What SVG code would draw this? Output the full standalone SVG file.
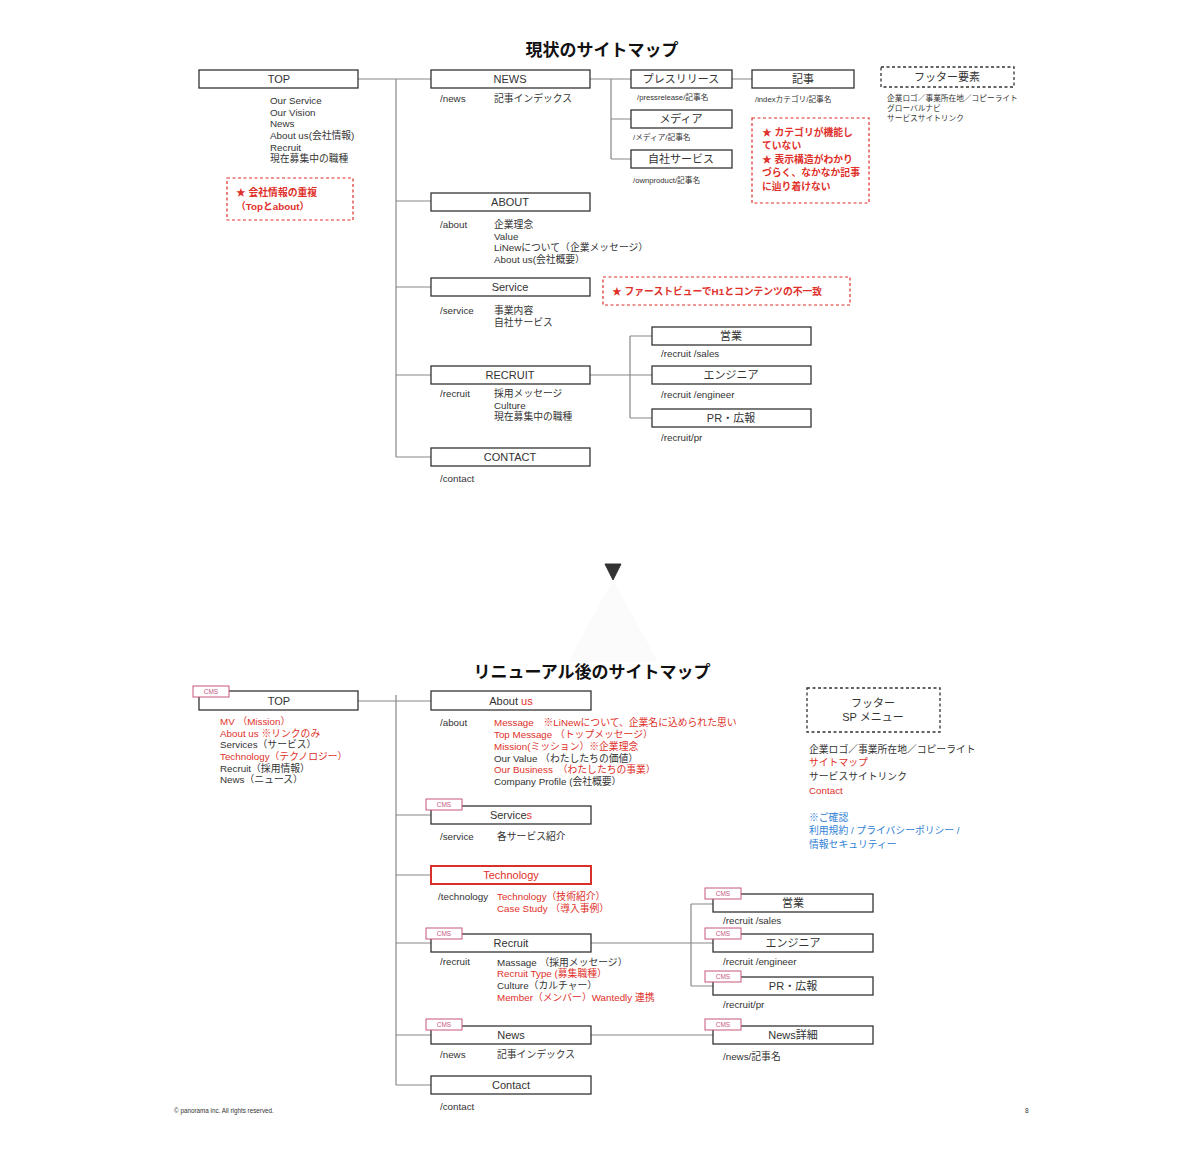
<svg xmlns="http://www.w3.org/2000/svg" width="1200" height="1167" viewBox="0 0 1200 1167">
<style>
text{font-family:"Liberation Sans","Noto Sans CJK JP",sans-serif;fill:#333;dominant-baseline:central}
.ttl{font-size:17px;font-weight:bold;fill:#111;text-anchor:middle}
.bx{fill:#fff;stroke:#333;stroke-width:1.3}
.rbx{fill:#fff;stroke:#d9302a;stroke-width:2}
.lbl{font-size:11px;text-anchor:middle}
.t{font-size:9.8px}
.s{font-size:7.7px}
.r{fill:#e0302a}
.b{fill:#2f7fd6}
.w{font-weight:bold}
.note{fill:none;stroke:#e0302a;stroke-width:1.2;stroke-dasharray:3 2.5}
.foot{fill:#fff;stroke:#333;stroke-width:1.3;stroke-dasharray:3 2.5}
.ln{fill:none;stroke:#888;stroke-width:1.2}
.cms{fill:#fff;stroke:#c8577f;stroke-width:1}
.cmst{font-size:6.5px;fill:#c8577f;text-anchor:middle}
</style>
<rect width="1200" height="1167" fill="#fff"/>

<text class="ttl" x="602" y="50">現状のサイトマップ</text>

<g id="connectors-current">
<path class="ln" d="M358 79H431M396 79V457M396 201H431M396 287H431M396 375H431M396 457H431"/>
<path class="ln" d="M590 79H631M611 79V159M611 119H631M611 159H631M732 79H752"/>
<path class="ln" d="M590 375H652M630 336V418M630 336H652M630 418H652"/>
</g>

<g id="c-top">
<rect class="bx" x="199" y="70" width="159" height="18"/>
<text class="lbl" x="279" y="79">TOP</text>
<text class="t" x="270" y="100">Our Service</text>
<text class="t" x="270" y="112">Our Vision</text>
<text class="t" x="270" y="123">News</text>
<text class="t" x="270" y="135">About us(会社情報)</text>
<text class="t" x="270" y="147">Recruit</text>
<text class="t" x="270" y="158">現在募集中の職種</text>
</g>
<g id="c-note1">
<rect class="note" x="227" y="178" width="126" height="42"/>
<text class="t r w" x="236" y="192">★ 会社情報の重複</text>
<text class="t r w" x="236" y="206">（Topとabout）</text>
</g>
<g id="c-news">
<rect class="bx" x="431" y="70" width="159" height="18"/>
<text class="lbl" x="510" y="79">NEWS</text>
<text class="t" x="440" y="98">/news</text>
<text class="t" x="494" y="98">記事インデックス</text>
</g>
<g id="c-press">
<rect class="bx" x="631" y="70" width="101" height="18"/>
<text class="lbl" x="681" y="79">プレスリリース</text>
<text class="s" x="637" y="97">/pressrelease/記事名</text>
</g>
<g id="c-kiji">
<rect class="bx" x="752" y="70" width="102" height="18"/>
<text class="lbl" x="803" y="79">記事</text>
<text class="s" x="755" y="99">/indexカテゴリ/記事名</text>
</g>
<g id="c-media">
<rect class="bx" x="631" y="110" width="101" height="18"/>
<text class="lbl" x="681" y="119">メディア</text>
<text class="s" x="633" y="137">/メディア/記事名</text>
</g>
<g id="c-own">
<rect class="bx" x="631" y="150" width="101" height="18"/>
<text class="lbl" x="681" y="159">自社サービス</text>
<text class="s" x="633" y="180">/ownproduct/記事名</text>
</g>
<g id="c-note2">
<rect class="note" x="752" y="118" width="117" height="85"/>
<text class="t r w" x="762" y="132">★ カテゴリが機能し</text>
<text class="t r w" x="762" y="145">ていない</text>
<text class="t r w" x="762" y="159">★ 表示構造がわかり</text>
<text class="t r w" x="762" y="172">づらく、なかなか記事</text>
<text class="t r w" x="762" y="186">に辿り着けない</text>
</g>
<g id="c-footer">
<rect class="foot" x="881" y="67" width="133" height="20"/>
<text class="lbl" x="947" y="77">フッター要素</text>
<text class="s" x="887" y="98">企業ロゴ／事業所在地／コピーライト</text>
<text class="s" x="887" y="108">グローバルナビ</text>
<text class="s" x="887" y="118">サービスサイトリンク</text>
</g>
<g id="c-about">
<rect class="bx" x="431" y="193" width="159" height="18"/>
<text class="lbl" x="510" y="202">ABOUT</text>
<text class="t" x="440" y="224">/about</text>
<text class="t" x="494" y="224">企業理念</text>
<text class="t" x="494" y="236">Value</text>
<text class="t" x="494" y="247">LiNewについて（企業メッセージ）</text>
<text class="t" x="494" y="259">About us(会社概要）</text>
</g>
<g id="c-service">
<rect class="bx" x="431" y="278" width="159" height="18"/>
<text class="lbl" x="510" y="287">Service</text>
<text class="t" x="440" y="310">/service</text>
<text class="t" x="494" y="310">事業内容</text>
<text class="t" x="494" y="322">自社サービス</text>
</g>
<g id="c-note3">
<rect class="note" x="603" y="277" width="247" height="28"/>
<text class="t r w" x="612" y="291">★ ファーストビューでH1とコンテンツの不一致</text>
</g>
<g id="c-recruit">
<rect class="bx" x="431" y="366" width="159" height="18"/>
<text class="lbl" x="510" y="375">RECRUIT</text>
<text class="t" x="440" y="393">/recruit</text>
<text class="t" x="494" y="393">採用メッセージ</text>
<text class="t" x="494" y="405">Culture</text>
<text class="t" x="494" y="416">現在募集中の職種</text>
</g>
<g id="c-sales">
<rect class="bx" x="652" y="327" width="159" height="18"/>
<text class="lbl" x="731" y="336">営業</text>
<text class="t" x="661" y="353">/recruit /sales</text>
</g>
<g id="c-eng">
<rect class="bx" x="652" y="366" width="159" height="18"/>
<text class="lbl" x="731" y="375">エンジニア</text>
<text class="t" x="661" y="394">/recruit /engineer</text>
</g>
<g id="c-pr">
<rect class="bx" x="652" y="409" width="159" height="18"/>
<text class="lbl" x="731" y="418">PR・広報</text>
<text class="t" x="661" y="437">/recruit/pr</text>
</g>
<g id="c-contact">
<rect class="bx" x="431" y="448" width="159" height="18"/>
<text class="lbl" x="510" y="457">CONTACT</text>
<text class="t" x="440" y="478">/contact</text>
</g>

<g id="arrow">
<polygon points="613,580 568,662 658,662" fill="#fbfbfb"/>
<polygon points="605,564 621,564 613,580" fill="#333" stroke="#333" stroke-width="1" stroke-linejoin="round"/>
</g>

<text class="ttl" x="592" y="672">リニューアル後のサイトマップ</text>

<g id="connectors-renewal">
<path class="ln" d="M358 701H431M396 695V1085M396 815H431M396 875H431M396 943H431M396 1035H431M396 1085H431"/>
<path class="ln" d="M591 943H713M691 904V986M691 904H713M691 986H713M591 1035H713"/>
</g>

<g id="n-top">
<rect class="bx" x="199" y="691" width="159" height="19"/>
<rect class="cms" x="193" y="686" width="36" height="11"/>
<text class="cmst" x="211" y="691.5">CMS</text>
<text class="lbl" x="279" y="701">TOP</text>
<text class="t r" x="220" y="721">MV （Mission）</text>
<text class="t r" x="220" y="733">About us ※リンクのみ</text>
<text class="t" x="220" y="744">Services（サービス）</text>
<text class="t r" x="220" y="756">Technology（テクノロジー）</text>
<text class="t" x="220" y="768">Recruit（採用情報）</text>
<text class="t" x="220" y="779">News（ニュース）</text>
</g>
<g id="n-about">
<rect class="bx" x="431" y="691" width="160" height="19"/>
<text class="lbl" x="511" y="701">About <tspan class="r">us</tspan></text>
<text class="t" x="440" y="722">/about</text>
<text class="t r" x="494" y="722">Message　※LiNewについて、企業名に込められた思い</text>
<text class="t r" x="494" y="734">Top Message （トップメッセージ）</text>
<text class="t r" x="494" y="746">Mission(ミッション）※企業理念</text>
<text class="t" x="494" y="758">Our Value （わたしたちの価値）</text>
<text class="t r" x="494" y="769">Our Business　（わたしたちの事業）</text>
<text class="t" x="494" y="781">Company Profile (会社概要）</text>
</g>
<g id="n-services">
<rect class="bx" x="431" y="806" width="160" height="18"/>
<rect class="cms" x="426" y="799" width="36" height="11"/>
<text class="cmst" x="444" y="804.5">CMS</text>
<text class="lbl" x="511" y="815">Service<tspan class="r">s</tspan></text>
<text class="t" x="440" y="836">/service</text>
<text class="t" x="497" y="836">各サービス紹介</text>
</g>
<g id="n-tech">
<rect class="rbx" x="431" y="866" width="160" height="18"/>
<text class="lbl r" x="511" y="875">Technology</text>
<text class="t" x="438" y="896">/technology</text>
<text class="t r" x="497" y="896">Technology（技術紹介）</text>
<text class="t r" x="497" y="908">Case Study （導入事例）</text>
</g>
<g id="n-recruit">
<rect class="bx" x="431" y="934" width="160" height="18"/>
<rect class="cms" x="426" y="928" width="36" height="11"/>
<text class="cmst" x="444" y="933.5">CMS</text>
<text class="lbl" x="511" y="943">Recruit</text>
<text class="t" x="440" y="961">/recruit</text>
<text class="t" x="497" y="962">Massage （採用メッセージ）</text>
<text class="t r" x="497" y="973">Recruit Type (募集職種）</text>
<text class="t" x="497" y="985">Culture（カルチャー）</text>
<text class="t r" x="497" y="997">Member（メンバー）Wantedly 連携</text>
</g>
<g id="n-sales">
<rect class="bx" x="713" y="894" width="160" height="18"/>
<rect class="cms" x="705" y="888" width="36" height="11"/>
<text class="cmst" x="723" y="893.5">CMS</text>
<text class="lbl" x="793" y="903">営業</text>
<text class="t" x="723" y="920">/recruit /sales</text>
</g>
<g id="n-eng">
<rect class="bx" x="713" y="934" width="160" height="18"/>
<rect class="cms" x="705" y="928" width="36" height="11"/>
<text class="cmst" x="723" y="933.5">CMS</text>
<text class="lbl" x="793" y="943">エンジニア</text>
<text class="t" x="723" y="961">/recruit /engineer</text>
</g>
<g id="n-pr">
<rect class="bx" x="713" y="977" width="160" height="18"/>
<rect class="cms" x="705" y="971" width="36" height="11"/>
<text class="cmst" x="723" y="976.5">CMS</text>
<text class="lbl" x="793" y="986">PR・広報</text>
<text class="t" x="723" y="1004">/recruit/pr</text>
</g>
<g id="n-news">
<rect class="bx" x="431" y="1026" width="160" height="18"/>
<rect class="cms" x="426" y="1019" width="36" height="11"/>
<text class="cmst" x="444" y="1024.5">CMS</text>
<text class="lbl" x="511" y="1035">News</text>
<text class="t" x="440" y="1054">/news</text>
<text class="t" x="497" y="1054">記事インデックス</text>
</g>
<g id="n-newsdetail">
<rect class="bx" x="713" y="1026" width="160" height="18"/>
<rect class="cms" x="705" y="1019" width="36" height="11"/>
<text class="cmst" x="723" y="1024.5">CMS</text>
<text class="lbl" x="793" y="1035">News詳細</text>
<text class="t" x="723" y="1056">/news/記事名</text>
</g>
<g id="n-contact">
<rect class="bx" x="431" y="1076" width="160" height="18"/>
<text class="lbl" x="511" y="1085">Contact</text>
<text class="t" x="440" y="1106">/contact</text>
</g>
<g id="n-footer">
<rect class="foot" x="807" y="688" width="133" height="44"/>
<text class="lbl" x="873" y="703">フッター</text>
<text class="lbl" x="873" y="717">SP メニュー</text>
<text class="t" x="809" y="749">企業ロゴ／事業所在地／コピーライト</text>
<text class="t r" x="809" y="762">サイトマップ</text>
<text class="t" x="809" y="776">サービスサイトリンク</text>
<text class="t r" x="809" y="790">Contact</text>
<text class="t b" x="809" y="817">※ご確認</text>
<text class="t b" x="809" y="830">利用規約 / プライバシーポリシー /</text>
<text class="t b" x="809" y="844">情報セキュリティー</text>
</g>

<text x="174" y="1110" style="font-size:6.3px">© panorama inc. All rights reserved.</text>
<text x="1025" y="1110" style="font-size:6.5px">8</text>
</svg>
